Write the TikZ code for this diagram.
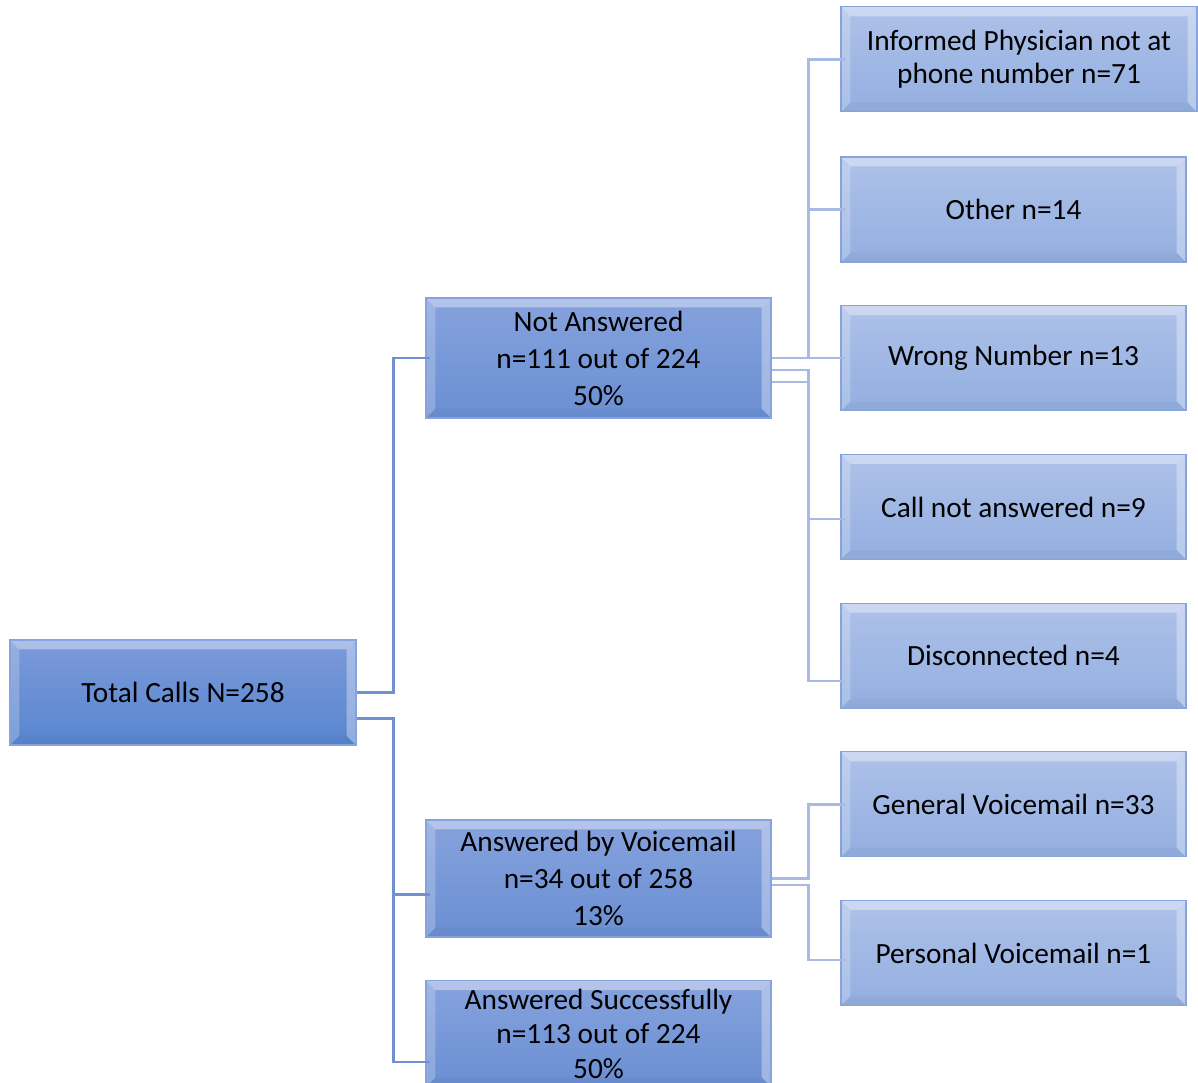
\documentclass[tikz,border=0pt]{standalone}
\usepackage{fontspec}
\setmainfont{Carlito}
\usepackage{tikz}
\usetikzlibrary{arrows,positioning}

\definecolor{rootTop}{RGB}{124,154,218}
\definecolor{rootBot}{RGB}{88,133,207}
\definecolor{midTop}{RGB}{134,162,221}
\definecolor{midBot}{RGB}{106,143,211}
\definecolor{leafTop}{RGB}{174,193,233}
\definecolor{leafBot}{RGB}{147,175,224}
\definecolor{edgeDark}{RGB}{112,144,208}
\definecolor{edgeLight}{RGB}{168,185,227}
\definecolor{boxLine}{RGB}{135,163,221}

\begin{document}
\begin{tikzpicture}[x=0.75pt,y=-0.75pt,node distance=32pt]
		\tikzstyle{bevel}=[path picture={
			\fill[white,opacity=.38] (path picture bounding box.north west) -- (path picture bounding box.north east)
				-- ([shift={(-7pt,-7pt)}]path picture bounding box.north east) -- ([shift={(7pt,-7pt)}]path picture bounding box.north west) -- cycle;
			\fill[white,opacity=.22] (path picture bounding box.north west) -- (path picture bounding box.south west)
				-- ([shift={(7pt,7pt)}]path picture bounding box.south west) -- ([shift={(7pt,-7pt)}]path picture bounding box.north west) -- cycle;
			\fill[white,opacity=.34] (path picture bounding box.north east) -- (path picture bounding box.south east)
				-- ([shift={(-7pt,7pt)}]path picture bounding box.south east) -- ([shift={(-7pt,-7pt)}]path picture bounding box.north east) -- cycle;
			\fill[black,opacity=.03] (path picture bounding box.south west) -- (path picture bounding box.south east)
				-- ([shift={(-7pt,7pt)}]path picture bounding box.south east) -- ([shift={(7pt,7pt)}]path picture bounding box.south west) -- cycle;
		}]
		\tikzstyle{box}=[rectangle, bevel, draw=boxLine, line width=0.8pt, inner sep=0pt, align=center,
			font=\fontsize{22}{24.75}\selectfont, minimum width=258.75pt, minimum height=78.75pt]
		\tikzstyle{root}=[box, top color=rootTop, bottom color=rootBot, minimum width=259.5pt]
		\tikzstyle{branch}=[box, top color=midTop, bottom color=midBot, minimum height=90pt,
			font=\fontsize{22}{27.75}\selectfont]
		\tikzstyle{leaf}=[box, top color=leafTop, bottom color=leafBot]
		\tikzstyle{link dark}=[draw=edgeDark, line width=1.6pt]
		\tikzstyle{link light}=[draw=edgeLight, line width=1.8pt]

		\path[use as bounding box, fill=white] (0,0) rectangle (1198,1082);

		% left and middle column
		\node [root] (total) at (183,692.5) {Total Calls N=258};

		\node [branch] (notans) at (598.5,358) {Not Answered\\n=111 out of 224\\50\%};

		\node [branch, minimum height=87.75pt] (voicemail) at (598.5,878.5) {Answered by Voicemail\\n=34 out of 258\\13\%};

		\node [branch, below=32pt of voicemail, minimum height=79.5pt, font=\fontsize{22}{26}\selectfont] (success) {Answered Successfully\\n=113 out of 224\\50\%};

		% right column
		\node [leaf] (other) at (1013.5,209.5) {Other n=14};

		\node [leaf, above=33pt of other.north west, anchor=south west, minimum width=267pt] (informed) {Informed Physician not at\\phone number n=71};

		\node [leaf] (wrong) [below=of other] {Wrong Number n=13};

		\node [leaf] (notpicked) [below=of wrong] {Call not answered n=9};

		\node [leaf] (discon) [below=of notpicked] {Disconnected n=4};

		\node [leaf] (general) [below=of discon] {General Voicemail n=33};

		\node [leaf] (personal) [below=of general] {Personal Voicemail n=1};

		% connectors
		\draw [link dark] (total.east) -- ++(37,0) |- ([xshift=3.75pt]notans.west);
		\draw [link dark] ([yshift=-19.5pt]total.east) -- ++(37,0) |- ([xshift=3.75pt,yshift=-12pt]voicemail.west);
		\draw [link dark] ([yshift=-19.5pt]total.east) -- ++(37,0) |- ([xshift=3.75pt,yshift=-21.5pt]success.west);

		\draw [link light] (notans.east) -- ++(37,0) |- ([xshift=3.75pt]informed.west);
		\draw [link light] (notans.east) -- ++(37,0) |- ([xshift=3.75pt]other.west);
		\draw [link light] (notans.east) -- ++(37,0) |- ([xshift=3.75pt]wrong.west);
		\draw [link light] ([yshift=-9pt]notans.east) -- ++(37,0) |- ([xshift=3.75pt,yshift=-9pt]notpicked.west);
		\draw [link light] ([yshift=-18pt]notans.east) -- ++(37,0) |- ([xshift=3.75pt,yshift=-19pt]discon.west);

		\draw [link light] (voicemail.east) -- ++(37,0) |- ([xshift=3.75pt]general.west);
		\draw [link light] ([yshift=-5pt]voicemail.east) -- ++(37,0) |- ([xshift=3.75pt,yshift=-5pt]personal.west);
	\end{tikzpicture}
\end{document}
